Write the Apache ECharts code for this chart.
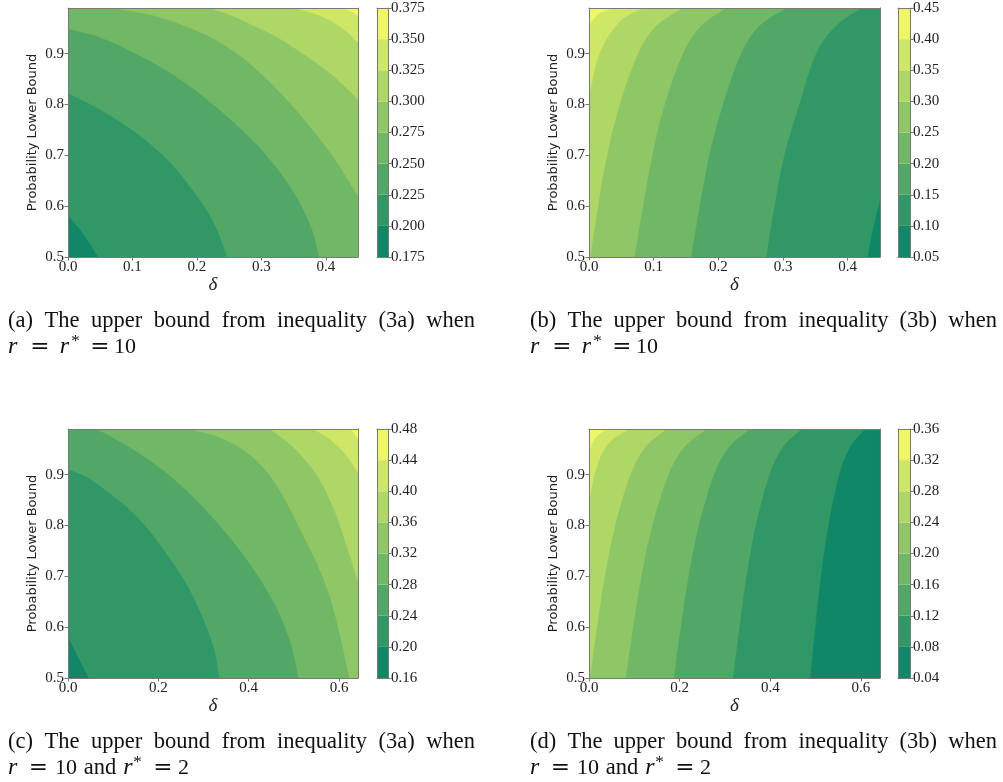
<!DOCTYPE html>
<html><head><meta charset="utf-8">
<script src="https://cdn.jsdelivr.net/npm/echarts@6/dist/echarts.min.js"></script>
<style>html,body{margin:0;padding:0;background:#fff}#c{width:1003px;height:782px}</style>
</head><body><div id="c"></div>
<script>
// ---------------- data ----------------
const BAND_COLORS = ['#108766','#309766','#50a766','#70b766','#8fc766','#afd766','#cfe766','#eff766'];
const X_TICKS_AB = [0, 0.1, 0.2, 0.3, 0.4];
const X_TICKS_CD = [0, 0.2, 0.4, 0.6];
const Y_TICKS = [0.5, 0.6, 0.7, 0.8, 0.9];
const X_MAX_AB = 0.45, X_MAX_CD = 0.642, Y_MIN = 0.5, Y_MAX = 0.99;
const CB_LABELS_A = ['0.175','0.200','0.225','0.250','0.275','0.300','0.325','0.350','0.375'];
const CB_LABELS_B = ['0.05','0.10','0.15','0.20','0.25','0.30','0.35','0.40','0.45'];
const CB_LABELS_C = ['0.16','0.20','0.24','0.28','0.32','0.36','0.40','0.44','0.48'];
const CB_LABELS_D = ['0.04','0.08','0.12','0.16','0.20','0.24','0.28','0.32','0.36'];

// contour boundaries [delta, p]; higher values lie to the left of travel
const A_200 = [[0,0.582],[0.024,0.545],[0.047,0.5]];
const A_225 = [[0,0.822],[0.050,0.790],[0.102,0.748],[0.154,0.692],[0.195,0.629],[0.2265,0.567],[0.247,0.5]];
const A_250 = [[0,0.949],[0.050,0.932],[0.102,0.902],[0.154,0.866],[0.206,0.820],[0.258,0.764],[0.3095,0.698],[0.351,0.626],[0.377,0.560],[0.390,0.5]];
const A_275 = [[0.066,0.99],[0.13,0.976],[0.20,0.945],[0.245,0.915],[0.2835,0.879],[0.325,0.829],[0.366,0.771],[0.41,0.70],[0.45,0.6195]];
const A_300 = [[0.218,0.99],[0.25,0.977],[0.2835,0.958],[0.325,0.932],[0.366,0.899],[0.41,0.858],[0.45,0.810]];
const A_325 = [[0.351,0.99],[0.385,0.978],[0.413,0.961],[0.433,0.943],[0.45,0.922]];
const A_350 = [[0.4235,0.99],[0.438,0.984],[0.45,0.975]];

const B_10 = [[0.431,0.5],[0.4386,0.553],[0.45,0.612]];
const B_15 = [[0.274,0.5],[0.2867,0.6],[0.302,0.7],[0.325,0.8],[0.351,0.9],[0.382,0.955],[0.4206,0.99]];
const B_20 = [[0.158,0.5],[0.171,0.6],[0.186,0.7],[0.207,0.8],[0.235,0.9],[0.2636,0.955],[0.305,0.99]];
const B_25 = [[0.0705,0.5],[0.0834,0.6],[0.0978,0.7],[0.117,0.8],[0.145,0.9],[0.1735,0.955],[0.212,0.99]];
const B_30 = [[0.002,0.5],[0.0139,0.6],[0.0278,0.7],[0.0474,0.8],[0.0757,0.9],[0.104,0.955],[0.145,0.99]];
const B_35 = [[0,0.816],[0.0165,0.902],[0.042,0.955],[0.063,0.978],[0.086,0.99]];
const B_40 = [[0,0.955],[0.0139,0.978],[0.037,0.99]];

const C_20 = [[0,0.582],[0.0214,0.5426],[0.0457,0.5]];
const C_24 = [[0,0.911],[0.043,0.895],[0.087,0.867],[0.132,0.835],[0.177,0.793],[0.221,0.741],[0.265,0.681],[0.30,0.615],[0.324,0.555],[0.335,0.5]];
const C_28 = [[0.064,0.99],[0.1326,0.956],[0.2015,0.915],[0.269,0.863],[0.3366,0.799],[0.403,0.724],[0.459,0.643],[0.493,0.568],[0.51,0.5]];
const C_32 = [[0.27,0.99],[0.34,0.972],[0.4027,0.939],[0.46,0.882],[0.524,0.775],[0.58,0.66],[0.6237,0.5]];
const C_36 = [[0.447,0.99],[0.50,0.953],[0.55,0.90],[0.59,0.83],[0.616,0.762],[0.642,0.69]];
const C_40 = [[0.5426,0.99],[0.58,0.97],[0.615,0.94],[0.642,0.905]];
const C_44 = [[0.6236,0.99],[0.634,0.982],[0.642,0.969]];

const D_08 = [[0.488,0.5],[0.499,0.6],[0.5115,0.7],[0.528,0.8],[0.552,0.9],[0.5765,0.955],[0.6096,0.99]];
const D_12 = [[0.318,0.5],[0.3318,0.6],[0.3472,0.7],[0.3678,0.8],[0.3978,0.9],[0.4283,0.955],[0.4695,0.99]];
const D_16 = [[0.187,0.5],[0.2023,0.6],[0.2194,0.7],[0.2423,0.8],[0.2755,0.9],[0.3093,0.955],[0.355,0.99]];
const D_20 = [[0.081,0.5],[0.0972,0.6],[0.1155,0.7],[0.1397,0.8],[0.175,0.9],[0.211,0.955],[0.2595,0.99]];
const D_24 = [[0.002,0.5],[0.0174,0.6],[0.0346,0.7],[0.0576,0.8],[0.091,0.9],[0.125,0.955],[0.171,0.99]];
const D_28 = [[0,0.844],[0.012,0.9],[0.03,0.945],[0.055,0.972],[0.09,0.99]];
const D_32 = [[0,0.943],[0.0125,0.972],[0.038,0.99]];

const CAPTION_A = ['(a)','The','upper','bound','from','inequality','(3a)','when'];
const CAPTION_B = ['(b)','The','upper','bound','from','inequality','(3b)','when'];
const CAPTION_C = ['(c)','The','upper','bound','from','inequality','(3a)','when'];
const CAPTION_D = ['(d)','The','upper','bound','from','inequality','(3b)','when'];
const MATH_RR = '{r1|r}{e1|=}{r2|r}{p|*}{g|}{e2|=}{n|10}';
const MATH_R2 = '{r1|r}{e3|=}{n|10}{t|and}{r3|r}{p|*}{g|}{e4|=}{n|2}';
const Y_NAME = 'Probability Lower Bound';
const X_NAME = 'δ';

// ---------------- layout ----------------
const panels = [
  {grid:{left:68,top:8,width:290,height:249}, cb:{left:377,top:8,width:11,height:249}, xMax:X_MAX_AB, xTicks:X_TICKS_AB,
   bounds:[A_200,A_225,A_250,A_275,A_300,A_325,A_350], cbLabels:CB_LABELS_A, caption:CAPTION_A, capX:8, capY:321, math:MATH_RR},
  {grid:{left:589,top:8,width:291,height:249}, cb:{left:898,top:8,width:12,height:249}, xMax:X_MAX_AB, xTicks:X_TICKS_AB,
   bounds:[B_10,B_15,B_20,B_25,B_30,B_35,B_40], cbLabels:CB_LABELS_B, caption:CAPTION_B, capX:530, capY:321, math:MATH_RR},
  {grid:{left:68,top:429,width:290,height:249}, cb:{left:377,top:429,width:11,height:249}, xMax:X_MAX_CD, xTicks:X_TICKS_CD,
   bounds:[C_20,C_24,C_28,C_32,C_36,C_40,C_44], cbLabels:CB_LABELS_C, caption:CAPTION_C, capX:8, capY:742, math:MATH_R2},
  {grid:{left:589,top:429,width:291,height:249}, cb:{left:898,top:429,width:12,height:249}, xMax:X_MAX_CD, xTicks:X_TICKS_CD,
   bounds:[D_08,D_12,D_16,D_20,D_24,D_28,D_32], cbLabels:CB_LABELS_D, caption:CAPTION_D, capX:530, capY:742, math:MATH_R2}
];

const SPINE = '#7a7a72';
const SERIF = 'Liberation Serif';
const TICK_FONT = 15;

function perim(p, x1) {
  const x0 = 0, y0 = Y_MIN, y1 = Y_MAX, w = x1 - x0, h = y1 - y0, e = 1e-6;
  if (Math.abs(p[1] - y0) < e) return (p[0] - x0) / w;
  if (Math.abs(p[0] - x1) < e) return 1 + (p[1] - y0) / h;
  if (Math.abs(p[1] - y1) < e) return 2 + (x1 - p[0]) / w;
  return 3 + (y1 - p[1]) / h;
}
function closingCorners(curve, xMax) {
  const corners = [[0, Y_MIN], [xMax, Y_MIN], [xMax, Y_MAX], [0, Y_MAX]];
  const tE = perim(curve[curve.length - 1], xMax);
  let tS = perim(curve[0], xMax); if (tS <= tE) tS += 4;
  const out = [];
  for (let c = 1; c < 8; c++) if (c > tE && c < tS) out.push(corners[c % 4]);
  return out;
}
// smooth path through the pixel points (Catmull-Rom drawn as cubic Beziers), then close along the frame
function bandPath(px, cornersPx) {
  const f = v => v.toFixed(2);
  let d = 'M' + f(px[0][0]) + ' ' + f(px[0][1]);
  for (let i = 0; i < px.length - 1; i++) {
    const p0 = px[Math.max(i - 1, 0)], p1 = px[i], p2 = px[i + 1], p3 = px[Math.min(i + 2, px.length - 1)];
    const c1 = [p1[0] + (p2[0] - p0[0]) / 6, p1[1] + (p2[1] - p0[1]) / 6];
    const c2 = [p2[0] - (p3[0] - p1[0]) / 6, p2[1] - (p3[1] - p1[1]) / 6];
    d += 'C' + f(c1[0]) + ' ' + f(c1[1]) + ' ' + f(c2[0]) + ' ' + f(c2[1]) + ' ' + f(p2[0]) + ' ' + f(p2[1]);
  }
  cornersPx.forEach(c => { d += 'L' + f(c[0]) + ' ' + f(c[1]); });
  return d + 'Z';
}

const grids = [], xAxes = [], yAxes = [], series = [], graphic = [];
const mctx = document.createElement('canvas').getContext('2d');

panels.forEach(P => grids.push(Object.assign({outerBoundsMode:'none', containLabel:false}, P.grid)));
panels.forEach(P => grids.push(Object.assign({outerBoundsMode:'none', containLabel:false}, P.cb)));

const frameAxis = (g, pos, min, max) => ({gridIndex:g, type:'value', min:min, max:max, position:pos, z:10,
  axisLine:{show:true, onZero:false, lineStyle:{color:SPINE, width:1}},
  axisTick:{show:false}, axisLabel:{show:false}, splitLine:{show:false}});

panels.forEach((P, i) => {
  const g = i;
  xAxes.push({gridIndex:g, type:'value', min:0, max:P.xMax, position:'bottom', z:10,
    axisLine:{show:true, onZero:false, lineStyle:{color:SPINE, width:1}},
    axisTick:{show:true, customValues:P.xTicks, length:3.5, lineStyle:{color:SPINE}},
    axisLabel:{customValues:P.xTicks, formatter:v => v.toFixed(1), fontFamily:SERIF, fontSize:TICK_FONT, color:'#222', margin:3},
    splitLine:{show:false},
    name:X_NAME, nameLocation:'middle', nameGap:17,
    nameTextStyle:{fontFamily:SERIF, fontStyle:'italic', fontSize:19, color:'#222'}});
  xAxes.push(frameAxis(g, 'top', 0, P.xMax));
  yAxes.push({gridIndex:g, type:'value', min:Y_MIN, max:Y_MAX, position:'left', z:10,
    axisLine:{show:true, onZero:false, lineStyle:{color:SPINE, width:1}},
    axisTick:{show:true, customValues:Y_TICKS, length:3.5, lineStyle:{color:SPINE}},
    axisLabel:{customValues:Y_TICKS, formatter:v => v.toFixed(1), fontFamily:SERIF, fontSize:TICK_FONT, color:'#222', margin:4},
    splitLine:{show:false},
    name:Y_NAME, nameLocation:'middle', nameGap:29,
    nameTextStyle:{fontFamily:'DejaVu Sans', fontSize:13, color:'#222'}});
  yAxes.push(frameAxis(g, 'right', Y_MIN, Y_MAX));
});
panels.forEach((P, i) => {
  const g = 4 + i, n = P.cbLabels.length - 1;
  xAxes.push(frameAxis(g, 'bottom', 0, 1));
  xAxes.push(frameAxis(g, 'top', 0, 1));
  yAxes.push({gridIndex:g, type:'value', min:0, max:n, interval:1, position:'right', z:10,
    axisLine:{show:true, onZero:false, lineStyle:{color:SPINE}},
    axisTick:{show:true, length:3.5, lineStyle:{color:SPINE}},
    axisLabel:{formatter:v => P.cbLabels[Math.round(v)], fontFamily:SERIF, fontSize:TICK_FONT, color:'#222', margin:3},
    splitLine:{show:false}});
  yAxes.push(frameAxis(g, 'left', 0, n));
});

panels.forEach((P, i) => {
  // filled contour bands
  series.push({type:'custom', xAxisIndex:2 * i, yAxisIndex:2 * i, silent:true, animation:false, clip:true,
    data:BAND_COLORS.map((c, k) => [0, Y_MIN, k]),
    renderItem:(params, api) => {
      const k = params.dataIndex;
      let d;
      if (k === 0) {
        const r = [[0, Y_MIN], [P.xMax, Y_MIN], [P.xMax, Y_MAX], [0, Y_MAX]].map(p => api.coord(p));
        d = 'M' + r.map(p => p[0] + ' ' + p[1]).join('L') + 'Z';
      } else {
        const curve = P.bounds[k - 1];
        d = bandPath(curve.map(p => api.coord(p)), closingCorners(curve, P.xMax).map(p => api.coord(p)));
      }
      return {type:'path', shape:{pathData:d}, style:{fill:BAND_COLORS[k], stroke:BAND_COLORS[k], lineWidth:0.3}};
    }});
  // colorbar
  series.push({type:'custom', xAxisIndex:8 + 2 * i, yAxisIndex:8 + 2 * i, silent:true, animation:false,
    data:BAND_COLORS.map((c, k) => [0, k]),
    renderItem:(params, api) => {
      const k = params.dataIndex;
      const a = api.coord([0, k]), b = api.coord([1, k + 1]);
      return {type:'rect', shape:{x:a[0], y:b[1], width:b[0] - a[0], height:a[1] - b[1]}, style:{fill:BAND_COLORS[k]}};
    }});

  // caption line 1 (justified like the LaTeX caption)
  const fs = 22.5;
  mctx.font = fs + 'px "' + SERIF + '"';
  const sum = P.caption.reduce((s, w) => s + mctx.measureText(w).width, 0);
  const gap = (467 - sum) / (P.caption.length - 1);
  graphic.push({type:'text', x:P.capX, y:P.capY, silent:true,
    style:{text:P.caption.join('{s| }'), fontFamily:SERIF, fontSize:fs, fill:'#111', verticalAlign:'middle',
      rich:{s:{width:gap, fontFamily:SERIF, fontSize:fs}}}});
  // caption line 2 (math)
  const base = {fontFamily:SERIF, fontSize:24, lineHeight:28};
  const eq = {fontFamily:'DejaVu Serif', fontSize:23, lineHeight:28, align:'center'};
  const rich = {
    r1:Object.assign({}, base, {fontStyle:'italic', width:14}),
    r2:Object.assign({}, base, {fontStyle:'italic', width:13, align:'right'}),
    r3:Object.assign({}, base, {fontStyle:'italic', width:10}),
    e1:Object.assign({}, eq, {width:36}),
    e2:Object.assign({}, eq, {width:28}),
    e3:Object.assign({}, eq, {width:33}),
    e4:Object.assign({}, eq, {width:30}),
    g:Object.assign({}, base, {width:6}),
    n:Object.assign({}, base, {fontSize:22}),
    t:Object.assign({}, base, {fontSize:fs, width:46, align:'center'}),
    p:{fontFamily:SERIF, fontSize:17, lineHeight:22, verticalAlign:'top', width:9, align:'right'}
  };
  graphic.push({type:'text', x:P.capX, y:P.capY + 26, silent:true,
    style:{text:P.math, rich:rich, fill:'#111', verticalAlign:'middle', fontFamily:SERIF, fontSize:24}});
});

const chart = echarts.init(document.getElementById('c'), null, {renderer:'canvas', width:1003, height:782});
chart.setOption({animation:false, backgroundColor:'#fff', grid:grids, xAxis:xAxes, yAxis:yAxes, series:series, graphic:graphic});
</script>
</body></html>
